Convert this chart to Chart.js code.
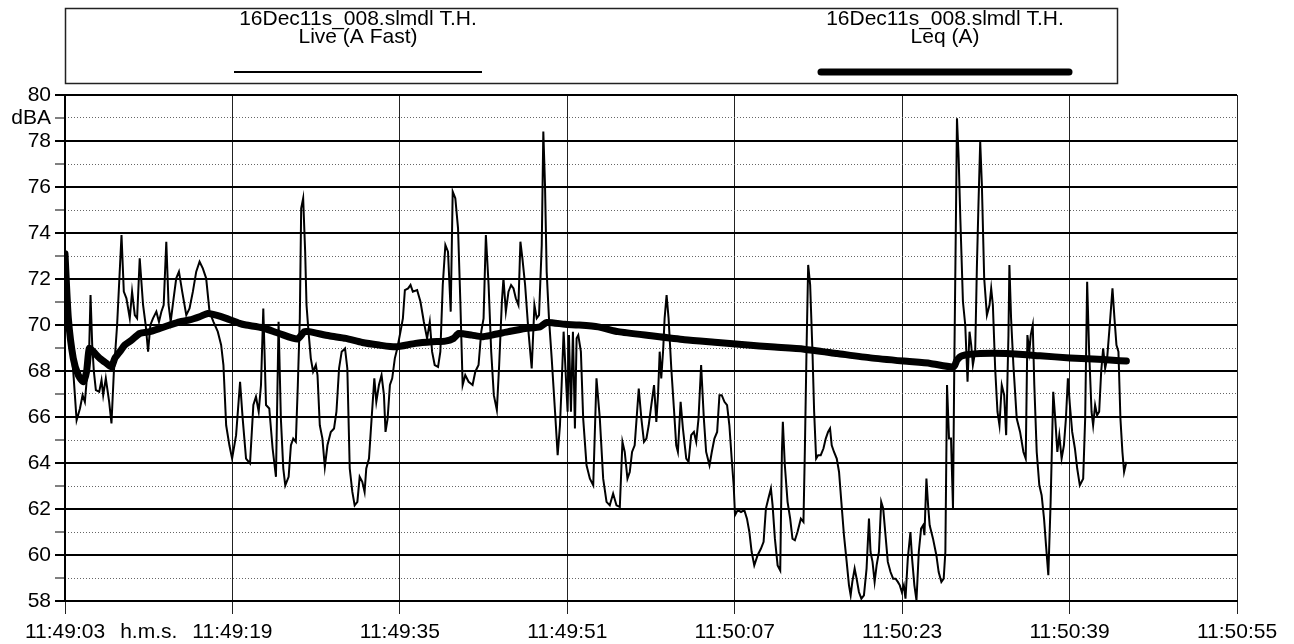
<!DOCTYPE html>
<html>
<head>
<meta charset="utf-8">
<style>
html, body { margin: 0; padding: 0; background: #fff; }
#wrap { width: 1294px; height: 644px; }
</style>
<script src="https://cdn.jsdelivr.net/npm/chart.js@4.4.1/dist/chart.umd.min.js"></script>
</head>
<body>
<div id="wrap"><canvas id="grafico" width="1294" height="644"></canvas></div>
<script>
// start time of the record and axis ticks (seconds from start)
const startTime = [11, 49, 3];
const xTicks = [0, 16, 32, 48, 64, 80, 96, 112];
const xUnitLabel = 'h.m.s.';
const xUnitAt = 8;
const yTicks = [58, 59, 60, 61, 62, 63, 64, 65, 66, 67, 68, 69, 70, 71, 72, 73, 74, 75, 76, 77, 78, 79, 80];
const yUnitLabel = 'dBA';
const yUnitAt = 79;

const fileName = '16Dec11s_008.slmdl T.H.';
const liveLabel = 'Live (A Fast)';
const leqLabel = 'Leq (A)';

// Live (A Fast) — seconds / dBA
const liveSec = [0, 0.4, 0.79, 1.11, 1.43, 1.68, 1.9, 2.06, 2.32, 2.44, 2.6, 2.76, 2.95, 3.27, 3.49, 3.65, 3.9, 4.22, 4.44, 4.67, 4.98,
  5.4, 5.62, 5.87, 6.19, 6.41, 6.67, 6.89, 7.14, 7.46, 7.71, 7.94, 8.16, 8.41, 8.73, 8.98, 9.21, 9.43, 9.68, 9.9, 10.1,
  10.38, 10.63, 10.89, 11.2, 11.59, 11.9, 12.22, 12.54, 12.86, 13.17, 13.49, 13.81, 14.19, 14.6, 14.92, 15.14, 15.4, 15.71, 15.97,
  16.35, 16.73, 16.98, 17.3, 17.68, 18.0, 18.25, 18.51, 18.73, 18.95, 19.21, 19.52, 19.84, 20.16, 20.41, 20.63, 20.86, 21.05,
  21.37, 21.59, 21.81, 22.06, 22.25, 22.44, 22.57, 22.76, 22.95, 23.08, 23.27, 23.49, 23.71, 23.97, 24.13, 24.35, 24.6, 24.83,
  25.08, 25.4, 25.71, 25.94, 26.19, 26.44, 26.76, 26.98, 27.21, 27.46, 27.68, 27.94, 28.16, 28.41, 28.63, 28.79, 29.05, 29.3,
  29.56, 29.75, 30.0, 30.25, 30.48, 30.63, 30.83, 31.05, 31.27, 31.52, 31.75, 32.06, 32.29,
  32.48, 32.79, 33.02, 33.24, 33.65, 33.97, 34.29, 34.6, 34.86, 35.08, 35.33, 35.65, 35.87, 36.1, 36.35, 36.6, 36.86, 37.05,
  37.3, 37.56, 37.78, 38.0, 38.25, 38.57, 38.95, 39.21, 39.52, 39.78, 40.0, 40.22, 40.48, 40.73, 40.98, 41.27, 41.49, 41.75,
  41.9, 42.13, 42.38, 42.63, 42.86, 43.08, 43.33, 43.52, 43.71, 43.97, 44.29, 44.6, 44.86, 45.08, 45.3, 45.56, 45.71, 45.87,
  46.03, 46.25, 46.51, 46.83, 47.08, 47.3, 47.46, 47.65, 47.84, 48.03, 48.16, 48.35, 48.54, 48.73, 48.89,
  49.05, 49.3, 49.52, 49.84, 50.16, 50.48, 50.79, 51.11, 51.43, 51.75, 52.06, 52.38, 52.7, 53.02, 53.27, 53.49, 53.75, 53.97,
  54.19, 54.44, 54.83, 55.08, 55.33, 55.56, 55.78, 56.03, 56.29, 56.51, 56.67, 56.83, 56.98, 57.17, 57.3, 57.49, 57.68, 57.94,
  58.19, 58.41, 58.57, 58.83, 59.05, 59.37, 59.59, 59.84, 60.1, 60.32, 60.54, 60.79, 61.05, 61.27, 61.59, 61.81, 62.06, 62.32,
  62.54, 62.76, 63.02, 63.27, 63.49, 63.71, 63.9, 64.03,
  64.29, 64.6, 64.92, 65.17, 65.4, 65.62, 65.87, 66.19, 66.51, 66.76, 66.98, 67.21, 67.46, 67.62, 67.84, 68.1, 68.35, 68.51,
  68.6, 68.79, 69.05, 69.3, 69.52, 69.75, 70.0, 70.32, 70.57, 70.7, 70.86, 71.02, 71.21, 71.43, 71.59, 71.78, 71.97, 72.22,
  72.48, 72.7, 72.92, 73.11, 73.27, 73.49, 73.75, 73.97, 74.19, 74.44, 74.7, 74.92, 75.08, 75.24, 75.46, 75.65, 75.87, 76.1,
  76.35, 76.6, 76.83, 76.98, 77.17, 77.37, 77.56, 77.78, 78.0, 78.19, 78.41, 78.63, 78.89, 79.14, 79.37, 79.59, 79.78, 79.97,
  80.16, 80.32, 80.54, 80.79,
  80.95, 81.17, 81.37, 81.59, 81.81, 82.0, 82.13, 82.32, 82.48, 82.63, 82.95, 83.27, 83.49, 83.75, 83.97, 84.13, 84.29, 84.48,
  84.67, 84.86, 84.98, 85.14, 85.24, 85.4, 85.56, 85.81, 86.03, 86.25, 86.44, 86.6, 86.76, 86.98, 87.14, 87.3, 87.46, 87.62,
  87.84, 88.1, 88.35, 88.51, 88.67, 88.89, 89.11, 89.3, 89.52, 89.75, 89.94, 90.16, 90.25, 90.41, 90.63, 90.95, 91.27, 91.59,
  91.81, 91.97, 92.16, 92.29, 92.48, 92.63, 92.86, 93.11, 93.33, 93.56, 93.75, 93.97, 94.19, 94.44, 94.63, 94.83, 95.02, 95.24,
  95.46, 95.65, 95.84, 96.03, 96.25, 96.51, 96.73, 96.98, 97.3, 97.49, 97.68, 97.87, 98.1, 98.25, 98.44, 98.63, 98.83, 99.02,
  99.21, 99.4, 99.59, 99.84, 100.1, 100.29, 100.48, 100.67, 100.86, 101.05, 101.21, 101.43];
const liveDb = [73.1, 69.8, 67.97, 65.86, 66.37, 66.95, 66.66, 67.53, 69.13, 71.3, 69.13, 67.97, 67.17, 67.1, 67.6, 66.95, 67.68, 66.66, 65.72, 67.97, 70.0,
  73.91, 71.45, 71.16, 70.29, 71.45, 70.43, 70.29, 72.9, 70.87, 70.0, 68.84, 70.0, 70.29, 70.58, 70.14, 70.58, 70.87, 73.62, 70.87, 70.14,
  71.16, 72.03, 72.32, 71.45, 70.43, 70.72, 71.45, 72.32, 72.75, 72.46, 72.03, 70.58, 70.14, 69.71, 69.13, 68.26, 65.64, 64.77, 64.19,
  65.21, 67.53, 65.93, 64.19, 63.98, 66.52, 66.88, 66.23, 67.39, 70.72, 66.52, 66.37, 64.63, 63.4, 70.14, 65.93, 63.76, 63.03,
  63.4, 64.77, 65.06, 64.92, 67.39, 70.29, 75.07, 75.51, 73.19, 70.87, 69.71, 68.55, 67.97, 68.26, 67.82, 65.64, 65.06, 63.83,
  64.77, 65.35, 65.5, 66.23, 68.11, 68.84, 68.98, 68.11, 63.76, 62.74, 62.16, 62.31, 63.4, 63.18, 62.74, 63.76, 64.19, 65.93,
  67.68, 66.66, 67.39, 67.82, 66.95, 65.35, 65.93, 67.39, 67.68, 68.55, 68.98, 69.71, 70.29,
  71.52, 71.59, 71.74, 71.45, 71.52, 71.01, 70.14, 69.42, 70.14, 68.84, 68.26, 68.18, 68.84, 71.74, 73.48, 73.19, 70.58, 75.8,
  75.51, 74.2, 71.01, 67.39, 67.82, 67.53, 67.39, 67.97, 68.26, 69.71, 70.29, 73.91, 71.74, 68.84, 66.95, 66.3, 68.26, 71.01,
  72.03, 70.58, 71.45, 71.74, 71.59, 71.16, 70.87, 73.62, 72.9, 71.74, 69.71, 68.11, 70.87, 70.29, 70.43, 73.48, 78.41, 76.09,
  72.32, 70.29, 68.55, 66.23, 64.34, 65.64, 67.39, 69.71, 67.97, 66.23, 69.56, 66.23, 69.71, 65.5, 69.42,
  69.56, 68.84, 65.93, 63.9, 63.32, 63.03, 67.68, 65.93, 63.32, 62.31, 62.16, 62.67, 62.16, 62.09, 64.92, 64.48, 63.32, 63.61,
  64.48, 64.77, 67.24, 65.93, 64.92, 65.06, 65.64, 66.52, 67.39, 65.79, 66.95, 68.84, 67.68, 68.98, 70.29, 71.3, 70.29, 68.11,
  66.37, 64.77, 64.48, 66.66, 65.5, 64.19, 64.05, 65.21, 65.35, 64.92, 65.93, 68.26, 65.93, 64.48, 63.9, 64.48, 65.06, 65.35,
  66.95, 66.95, 66.66, 66.52, 65.64, 64.19, 63.03, 61.73,
  61.95, 61.87, 61.95, 61.58, 61.0, 60.13, 59.55, 59.99, 60.28, 60.57, 62.02, 62.45, 62.89, 62.16, 60.71, 59.55, 59.33, 64.48,
  65.79, 63.9, 62.31, 61.58, 60.71, 60.64, 61.0, 61.58, 61.44, 64.48, 68.84, 72.61, 71.74, 68.84, 66.23, 64.19, 64.34, 64.34,
  64.63, 65.06, 65.35, 65.5, 64.77, 64.48, 64.19, 63.61, 62.31, 60.86, 59.7, 58.68, 58.25, 58.83, 59.41, 58.97, 58.39, 58.1,
  58.25, 59.41, 61.58, 60.13, 59.7, 58.83, 59.55, 60.13, 62.31, 62.02, 60.86, 59.7, 59.26, 58.97, 58.97, 58.83, 58.68, 58.39,
  58.68, 58.1, 59.84, 61.0,
  59.84, 58.68, 58.03, 60.13, 61.15, 61.29, 60.86, 63.32, 62.16, 61.29, 60.71, 59.99, 59.26, 58.83, 58.97, 60.13, 67.39, 65.06,
  65.06, 62.02, 68.11, 74.64, 78.99, 77.25, 74.64, 71.01, 70.0, 67.53, 69.71, 69.13, 68.26, 68.84, 72.46, 75.36, 77.97, 76.09,
  72.03, 70.43, 70.87, 71.59, 70.87, 68.11, 66.23, 65.64, 67.39, 66.95, 65.21, 69.56, 72.61, 70.29, 68.26, 65.93, 65.35, 64.48,
  64.19, 69.56, 68.84, 69.56, 70.0, 67.39, 64.48, 63.03, 62.6, 61.58, 60.42, 59.12, 62.31, 67.1, 65.93, 64.48, 65.21, 64.19,
  64.77, 65.93, 67.68, 66.52, 65.35, 64.63, 63.76, 63.03, 63.32, 65.93, 71.88, 68.84, 66.23, 65.64, 66.52, 66.08, 66.23, 67.97,
  68.98, 68.11, 68.55, 70.0, 71.59, 70.29, 69.13, 68.84, 65.93, 64.48, 63.61, 64.05];

// Leq (A) — seconds / dBA
const leqSec = [0, 0.32, 0.79, 1.27, 1.75, 2.06, 2.32, 2.7, 3.33, 3.97, 4.44, 4.76, 5.24, 5.71, 6.35, 7.14, 8.1, 9.05, 10.0, 10.95,
  11.9, 12.86, 13.65, 14.44, 15.4, 16.67, 17.3, 18.89, 20.48, 22.22, 22.86, 23.33, 25.24, 26.83, 28.41, 30.0, 31.59, 33.49, 35.08,
  36.35, 37.14, 37.62, 38.89, 39.84, 40.79, 42.38, 43.97, 45.4, 46.03, 47.78, 49.05, 50.95, 52.86, 56.03, 59.21, 62.38, 65.24,
  67.46, 70.63, 73.81, 76.98, 80.16, 82.7, 84.92, 85.24, 85.71, 87.46, 90.0, 93.17, 96.03, 98.25, 100.16, 101.43];
const leqDb = [73.1, 70.29, 68.55, 67.82, 67.53, 67.97, 68.98, 68.84, 68.55, 68.33, 68.18, 68.55, 68.84, 69.13, 69.34, 69.63, 69.71, 69.85, 70.0, 70.14,
  70.22, 70.36, 70.5, 70.43, 70.29, 70.07, 70.0, 69.88, 69.63, 69.39, 69.71, 69.71, 69.53, 69.42, 69.24, 69.13, 69.05, 69.2, 69.27,
  69.3, 69.42, 69.63, 69.56, 69.49, 69.56, 69.71, 69.85, 69.92, 70.11, 70.03, 70.0, 69.92, 69.71, 69.53, 69.36, 69.24, 69.13,
  69.05, 68.95, 68.76, 68.57, 68.43, 68.33, 68.18, 68.47, 68.66, 68.76, 68.76, 68.66, 68.57, 68.52, 68.47, 68.43];

const fonte = "'Liberation Sans', Arial, sans-serif";

function pontos(secs, vals){
    const lista = [];
    for (let i = 0; i < secs.length; i++) {
        lista.push({x: secs[i], y: vals[i]});
    }
    return lista;
}

function horaLabel(seg){
    const total = startTime[0] * 3600 + startTime[1] * 60 + startTime[2] + seg;
    const h = Math.floor(total / 3600);
    const m = Math.floor((total % 3600) / 60);
    const s = total % 60;
    return h + ':' + String(m).padStart(2, '0') + ':' + String(s).padStart(2, '0');
}

// legend box above the plot: file name, series name, line sample
const legendaPlugin = {
    id: 'legenda',
    afterDraw(chart){
        const ctx = chart.ctx;
        const left = chart.chartArea.left;
        const boxRight = 1117;
        ctx.save();
        ctx.strokeStyle = '#222';
        ctx.lineWidth = 1.5;
        ctx.strokeRect(left + 0.5, 8.5, boxRight - left, 75);
        const centros = [358, 945];
        chart.data.datasets.forEach((ds, i) => {
            const cx = centros[i];
            ctx.fillStyle = '#000';
            ctx.font = '21px ' + fonte;
            ctx.textAlign = 'center';
            ctx.textBaseline = 'middle';
            ctx.fillText(fileName, cx, 19);
            ctx.fillText(ds.label, cx, 37);
            ctx.beginPath();
            ctx.strokeStyle = ds.borderColor;
            ctx.lineWidth = ds.borderWidth;
            ctx.lineCap = ds.borderCapStyle || 'butt';
            ctx.moveTo(cx - 124, 72);
            ctx.lineTo(cx + 124, 72);
            ctx.stroke();
        });
        ctx.restore();
    }
};

function grafico(){
    const data = {
        datasets: [{
            label: liveLabel,
            data: pontos(liveSec, liveDb),
            borderColor: '#000',
            borderWidth: 2,
            pointRadius: 0,
            tension: 0,
            order: 1
        }, {
            label: leqLabel,
            data: pontos(leqSec, leqDb),
            borderColor: '#000',
            borderWidth: 7,
            borderCapStyle: 'round',
            borderJoinStyle: 'round',
            pointRadius: 0,
            tension: 0.2,
            order: 0
        }]
    };

    new Chart(document.getElementById('grafico'), {
        type: 'line',
        data: data,
        plugins: [legendaPlugin],
        options: {
            responsive: false,
            animation: false,
            devicePixelRatio: 1,
            layout: { padding: { top: 95, right: 57, bottom: 0, left: 0 } },
            plugins: { legend: { display: false }, tooltip: { enabled: false } },
            scales: {
                x: {
                    type: 'linear',
                    min: xTicks[0],
                    max: xTicks[xTicks.length - 1],
                    afterFit(s){ s.height = 43; },
                    afterBuildTicks(s){
                        s.ticks = xTicks.concat([xUnitAt]).sort((a, b) => a - b).map(v => ({value: v}));
                    },
                    ticks: {
                        autoSkip: false,
                        maxRotation: 0,
                        padding: 6,
                        color: '#000',
                        font: { family: fonte, size: 21 },
                        callback: (v) => v === xUnitAt ? xUnitLabel : horaLabel(v)
                    },
                    grid: {
                        color: (c) => c.tick && c.tick.value === xUnitAt ? 'rgba(0,0,0,0)' : '#222',
                        lineWidth: 1,
                        tickLength: 13
                    },
                    border: { color: '#000', width: 2 }
                },
                y: {
                    type: 'linear',
                    min: yTicks[0],
                    max: yTicks[yTicks.length - 1],
                    afterFit(s){ s.width = 65; },
                    afterBuildTicks(s){ s.ticks = yTicks.map(v => ({value: v})); },
                    ticks: {
                        autoSkip: false,
                        padding: 4,
                        color: '#000',
                        font: { family: fonte, size: 21 },
                        callback: (v) => v === yUnitAt ? yUnitLabel : (v % 2 === 0 ? v : '')
                    },
                    grid: {
                        color: (c) => c.tick && c.tick.value % 2 === 0 ? '#000' : 'rgba(0,0,0,0)',
                        lineWidth: 2,
                        tickLength: 10,
                        tickColor: '#000',
                        tickWidth: (c) => c.tick && c.tick.value % 2 === 0 ? 2 : 1
                    },
                    border: { color: '#000', width: 2 }
                },
                // minor dotted lines every 1 dB
                y2: {
                    type: 'linear',
                    position: 'left',
                    min: yTicks[0],
                    max: yTicks[yTicks.length - 1],
                    afterFit(s){ s.width = 0; },
                    afterBuildTicks(s){ s.ticks = yTicks.filter(v => v % 2 === 1).map(v => ({value: v})); },
                    ticks: { display: false },
                    grid: { color: '#666', lineWidth: 1, drawTicks: false },
                    border: { display: false, dash: [1, 2] }
                }
            }
        }
    });
}

grafico();
</script>
</body>
</html>
